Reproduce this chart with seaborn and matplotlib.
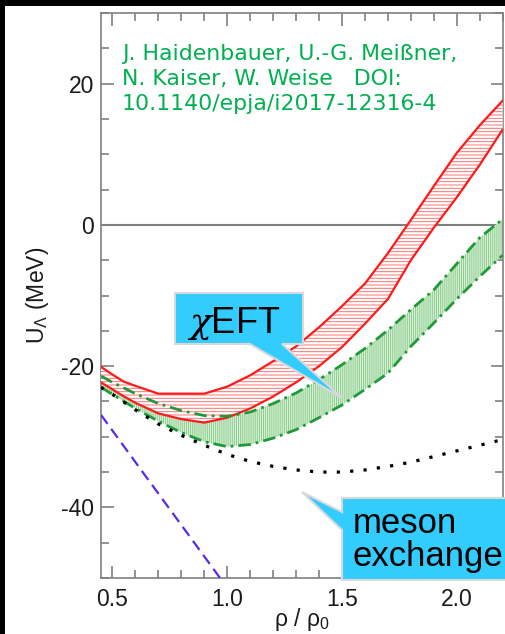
import numpy as np
import pandas as pd
import matplotlib
matplotlib.use('Agg')
import matplotlib.pyplot as plt
import seaborn as sns
from matplotlib.patches import Polygon, Rectangle
from matplotlib.ticker import MultipleLocator

# density grid (rho / rho_0)
rho = [0.45, 0.5, 0.55, 0.6, 0.7, 0.8, 0.9, 1.0, 1.1, 1.2, 1.3, 1.4, 1.5,
       1.6, 1.7, 1.8, 1.9, 2.0, 2.1, 2.2]

# chiEFT band, red hatched (U in MeV)
red_upper = [-20.1, -21.2, -22.2, -22.8, -23.9, -23.9, -23.9, -22.9, -21.3, -19.3,
             -17.2, -14.5, -11.5, -8.3, -4.0, 0.7, 5.5, 10.2, 14.1, 17.6]
red_lower = [-22.3, -23.3, -24.3, -25.2, -26.7, -27.5, -28.0, -27.3, -26.0, -24.3,
             -22.3, -20.0, -17.3, -14.0, -10.5, -5.0, -0.4, 3.9, 8.5, 13.5]

# chiEFT band, green shaded
green_upper = [-21.4, -22.3, -23.1, -23.9, -25.3, -26.3, -27.0, -27.1, -26.5, -25.3,
               -23.8, -21.9, -19.8, -17.5, -14.9, -12.0, -9.2, -5.5, -1.8, 0.8]
green_lower = [-23.0, -24.0, -25.0, -26.0, -27.8, -29.4, -30.7, -31.4, -31.1, -30.2,
               -29.0, -27.3, -25.5, -23.3, -21.0, -17.2, -13.9, -10.5, -7.3, -4.3]

# meson exchange, black dotted
meson_dotted = [-23.0, -24.0, -25.1, -26.2, -28.2, -29.8, -31.2, -32.5, -33.5, -34.2,
                -34.7, -35.0, -35.0, -34.7, -34.2, -33.6, -32.8, -32.0, -31.2, -30.4]

# meson exchange, blue dashed
rho_blue = [0.45, 0.6, 0.8, 1.0]
meson_dashed = [-26.9, -33.6, -42.5, -51.4]

W, H = 506, 634


def fpos(x, y):
    # pixel position -> figure fraction
    return (x / W, 1 - y / H)


sns.set_style('ticks')
plt.rcParams['font.family'] = ['Liberation Sans', 'DejaVu Sans']
plt.rcParams['mathtext.fontset'] = 'custom'
plt.rcParams['mathtext.rm'] = 'Liberation Sans'
plt.rcParams['mathtext.it'] = 'DejaVu Serif:italic'
plt.rcParams['axes.unicode_minus'] = False
plt.rcParams['hatch.linewidth'] = 0.7

fig = plt.figure(figsize=(W / 100, H / 100), dpi=100, facecolor='black')
fig.add_artist(Rectangle((5 / W, 0), 1, 1 - 6 / H, transform=fig.transFigure,
                         facecolor='white', edgecolor='none', zorder=-1))
ax = fig.add_axes([101 / W, 1 - 578 / H, 401.7 / W, 565 / H])
ax.set_facecolor('white')

ax.axhline(0, color='#7f7f7f', lw=1.5, zorder=1)

ax.fill_between(rho, green_lower, green_upper, facecolor='#dcf1dc',
                edgecolor='#8acc8a', hatch='||||||||', linewidth=0, zorder=2)
ax.fill_between(rho, red_lower, red_upper, facecolor='white',
                edgecolor='#ff7373', hatch='-----', linewidth=0, zorder=3)

sns.lineplot(x=rho, y=red_upper, ax=ax, color='#ff1a1a', lw=1.6, zorder=4)
sns.lineplot(x=rho, y=red_lower, ax=ax, color='#ff1a1a', lw=1.6, zorder=4)
sns.lineplot(x=rho, y=green_upper, ax=ax, color='#1f9a3a', lw=2.0,
             linestyle=(0, (4.5, 1.8, 1, 1.8)), zorder=5)
sns.lineplot(x=rho, y=green_lower, ax=ax, color='#1f9a3a', lw=2.0,
             linestyle=(0, (4.5, 1.8, 1, 1.8)), zorder=5)
sns.lineplot(x=rho, y=meson_dotted, ax=ax, color='black', lw=2.3,
             linestyle=(0, (1, 3.2)), zorder=5)
sns.lineplot(x=rho_blue, y=meson_dashed, ax=ax, color='#5a2be6', lw=1.6,
             linestyle=(0, (5, 2.8)), zorder=5)

ax.set_xlim(0.45, 2.2)
ax.set_ylim(-50, 30)
ax.xaxis.set_minor_locator(MultipleLocator(0.1))
ax.yaxis.set_major_locator(MultipleLocator(20))
ax.yaxis.set_minor_locator(MultipleLocator(5))
ax.set_xticks([0.5, 1.0, 1.5, 2.0])
ax.set_xticklabels(['0.5', '1.0', '1.5', '2.0'])

for s in ax.spines.values():
    s.set_color('#808080')
    s.set_linewidth(1.2)
ax.tick_params(which='both', direction='in', top=True, right=True,
               color='#808080', width=1.2, labelsize=16.5, labelcolor='#1a1a1a')
ax.tick_params(which='major', length=9)
ax.tick_params(which='minor', length=5.5)
ax.tick_params(axis='x', pad=7)
ax.tick_params(axis='y', pad=5)

ax.set_ylabel('U$_\\Lambda$ (MeV)', fontsize=16.5, color='#1a1a1a')
ax.yaxis.set_label_coords(-0.125, 0.5)
ax.set_xlabel('ρ / ρ$_0$', fontsize=16.5, color='#1a1a1a')
ax.xaxis.set_label_coords(0.5, -0.05)

# citation text
cite = ['J. Haidenbauer, U.-G. Meißner,',
        'N. Kaiser, W. Weise   DOI:',
        '10.1140/epja/i2017-12316-4']
for i, line in enumerate(cite):
    fig.text(*fpos(122, 60 + 25 * i), line, color='#00b050', fontsize=15.8,
             family='DejaVu Sans', ha='left', va='baseline')

# callouts
eft_box = [(175, 293), (303, 293), (303, 344), (282, 344), (342, 398),
           (250, 344), (175, 344)]
fig.add_artist(Polygon([fpos(*p) for p in eft_box], closed=True,
                       transform=fig.transFigure, facecolor='#33ccff',
                       edgecolor='#d9d9d9', lw=1.5, zorder=10))
fig.text(*fpos(187, 333), '$\\chi$EFT', fontsize=26, color='black',
         ha='left', va='baseline', zorder=11)

meson_box = [(342, 498), (508, 498), (508, 580), (342, 580), (342, 530),
             (302, 492), (342, 512)]
fig.add_artist(Polygon([fpos(*p) for p in meson_box], closed=True,
                       transform=fig.transFigure, facecolor='#33ccff',
                       edgecolor='#d9d9d9', lw=1.5, zorder=10))
fig.text(*fpos(353, 533), 'meson', fontsize=25, color='black',
         ha='left', va='baseline', zorder=11)
fig.text(*fpos(353, 566), 'exchange', fontsize=25, color='black',
         ha='left', va='baseline', zorder=11)

fig.savefig('out.png', dpi=100, facecolor=fig.get_facecolor())
